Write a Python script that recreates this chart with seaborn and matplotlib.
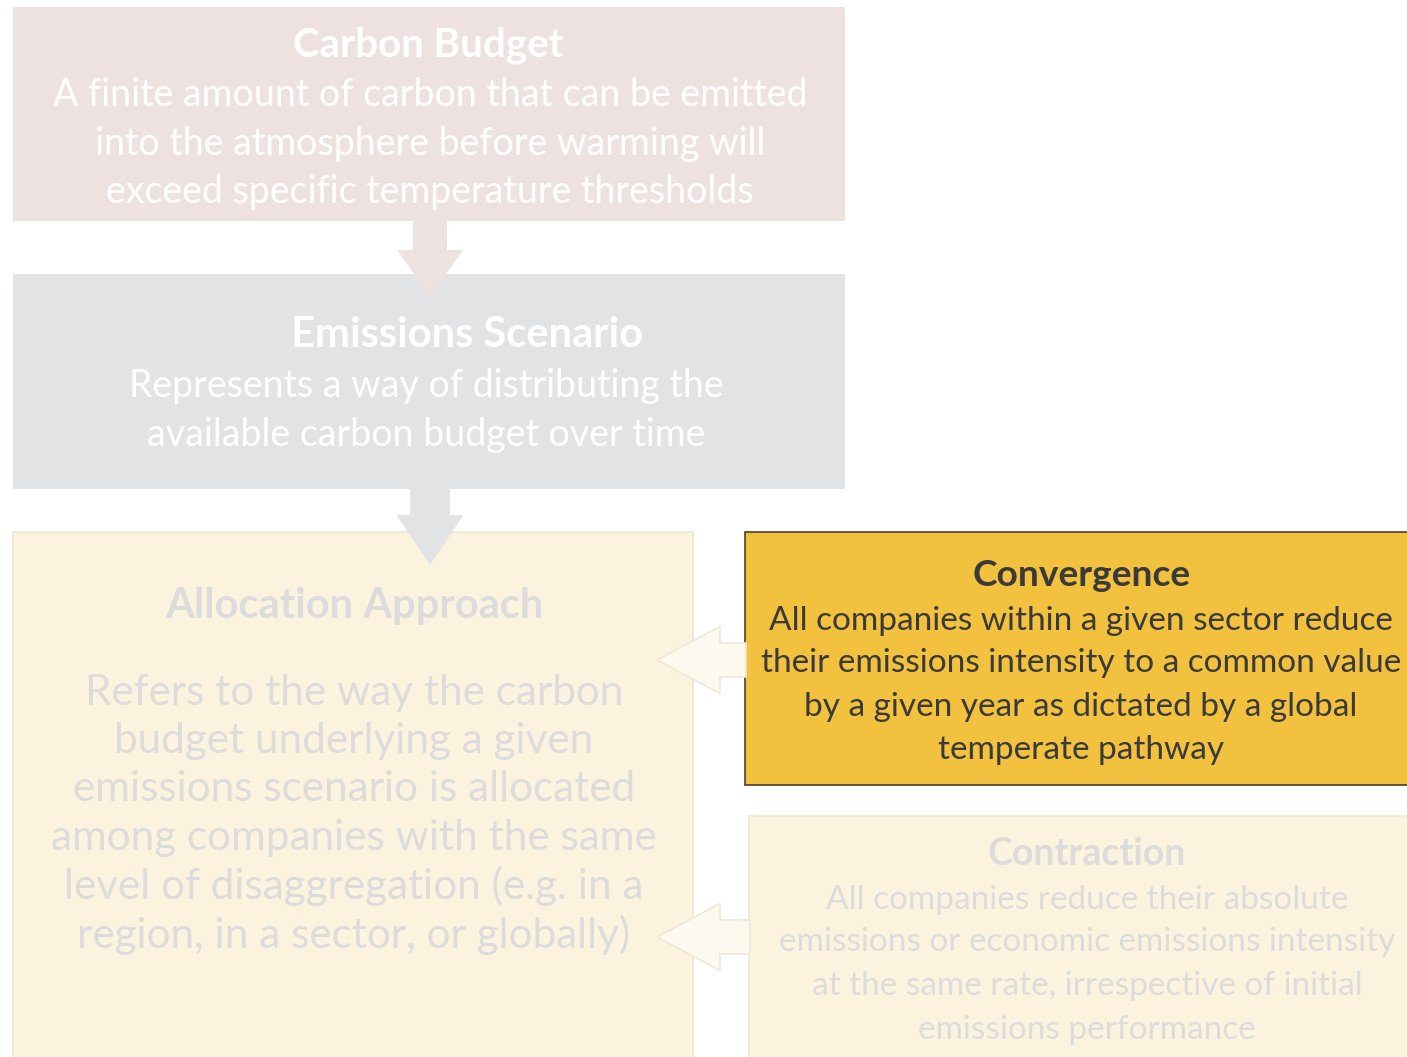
import matplotlib
matplotlib.use("Agg")
import matplotlib.pyplot as plt
from matplotlib.patches import Rectangle, Polygon
import seaborn as sns

# ---- content ----
budget_title = "Carbon Budget"
budget_lines = ["A finite amount of carbon that can be emitted",
                "into the atmosphere before warming will",
                "exceed specific temperature thresholds"]
scenario_title = "Emissions Scenario"
scenario_lines = ["Represents a way of distributing the",
                  "available carbon budget over time"]
allocation_title = "Allocation Approach"
allocation_lines = ["Refers to the way the carbon",
                    "budget underlying a given",
                    "emissions scenario is allocated",
                    "among companies with the same",
                    "level of disaggregation (e.g. in a",
                    "region, in a sector, or globally)"]
convergence_title = "Convergence"
convergence_lines = ["All companies within a given sector reduce",
                     "their emissions intensity to a common value",
                     "by a given year as dictated by a global",
                     "temperate pathway"]
contraction_title = "Contraction"
contraction_lines = ["All companies reduce their absolute",
                     "emissions or economic emissions intensity",
                     "at the same rate, irrespective of initial",
                     "emissions performance"]

sns.set_theme(style="white")
plt.rcParams['font.family'] = ['Lato', 'DejaVu Sans']

W, H = 1407, 1057
fig = plt.figure(figsize=(W / 100, H / 100), dpi=100)
ax = fig.add_axes([0, 0, 1, 1])
ax.set_xlim(0, W)
ax.set_ylim(H, 0)
ax.axis("off")

PINK = "#EEE2E0"
GREY = "#E2E3E5"
CREAM = "#FCF3DE"
GOLD = "#F2C13E"
LIGHTTXT = "#DCDCDC"
DARKTXT = "#3A3A3A"


def box(x0, y0, x1, y1, fc, ec="none", lw=0, z=1):
    ax.add_patch(Rectangle((x0, y0), x1 - x0, y1 - y0, fc=fc, ec=ec, lw=lw, zorder=z))


def down_arrow(cx, y0, yb, ytip, shaft_w, head_w, fc, z=3):
    pts = [(cx - shaft_w / 2, y0), (cx + shaft_w / 2, y0), (cx + shaft_w / 2, yb),
           (cx + head_w / 2, yb), (cx, ytip), (cx - head_w / 2, yb), (cx - shaft_w / 2, yb)]
    ax.add_patch(Polygon(pts, closed=True, fc=fc, ec="none", zorder=z))


def left_arrow(xtip, cy, xb, x1, shaft_h, head_h, fc, ec, z=3):
    pts = [(x1, cy - shaft_h / 2), (xb, cy - shaft_h / 2), (xb, cy - head_h / 2), (xtip, cy),
           (xb, cy + head_h / 2), (xb, cy + shaft_h / 2), (x1, cy + shaft_h / 2)]
    ax.add_patch(Polygon(pts, closed=True, fc=fc, ec=ec, lw=1.2, zorder=z, joinstyle="miter"))


def lines(cx, ys, texts, size, color, weight="normal"):
    for y, t in zip(ys, texts):
        ax.text(cx, y, t, ha="center", va="center", fontsize=size, color=color,
                fontweight=weight, zorder=5)


# boxes
box(13, 7, 845, 221, PINK)
box(13, 274, 845, 489, GREY)
box(13, 532, 693, 1070, CREAM, ec="#ECE6D6", lw=1.2)
box(745, 532, 1420, 785, GOLD, ec="#4A3F2A", lw=1.2, z=2)
box(749, 816, 1420, 1070, CREAM, ec="#ECE6D6", lw=1.2)

# arrows
down_arrow(430, 221, 250, 297, 34, 66, PINK)
down_arrow(430, 489, 515, 565, 40, 67, GREY)
left_arrow(657, 660, 720, 746, 34, 67, "#FEF9EE", "#EFE8D6")
left_arrow(657, 937, 720, 750, 34, 67, "#FEF9EE", "#EFE8D6")

# texts
lines(428, [45], [budget_title], 29, "white", "bold")
lines(430, [95, 144, 192], budget_lines, 27, "white")
lines(467, [335], [scenario_title], 30, "white", "bold")
lines(426, [386, 435], scenario_lines, 27, "white")
lines(354, [606], [allocation_title], 30, LIGHTTXT, "bold")
lines(354, [693, 741, 789, 838, 886, 935], allocation_lines, 30.4, LIGHTTXT)
lines(1082, [575], [convergence_title], 26.7, DARKTXT, "bold")
lines(1081, [621, 663, 707, 750], convergence_lines, 24, DARKTXT)
lines(1087, [854], [contraction_title], 27, LIGHTTXT, "bold")
lines(1087, [900, 942, 986, 1030], contraction_lines, 24, LIGHTTXT)

fig.savefig("out.png", dpi=100, facecolor="white")
